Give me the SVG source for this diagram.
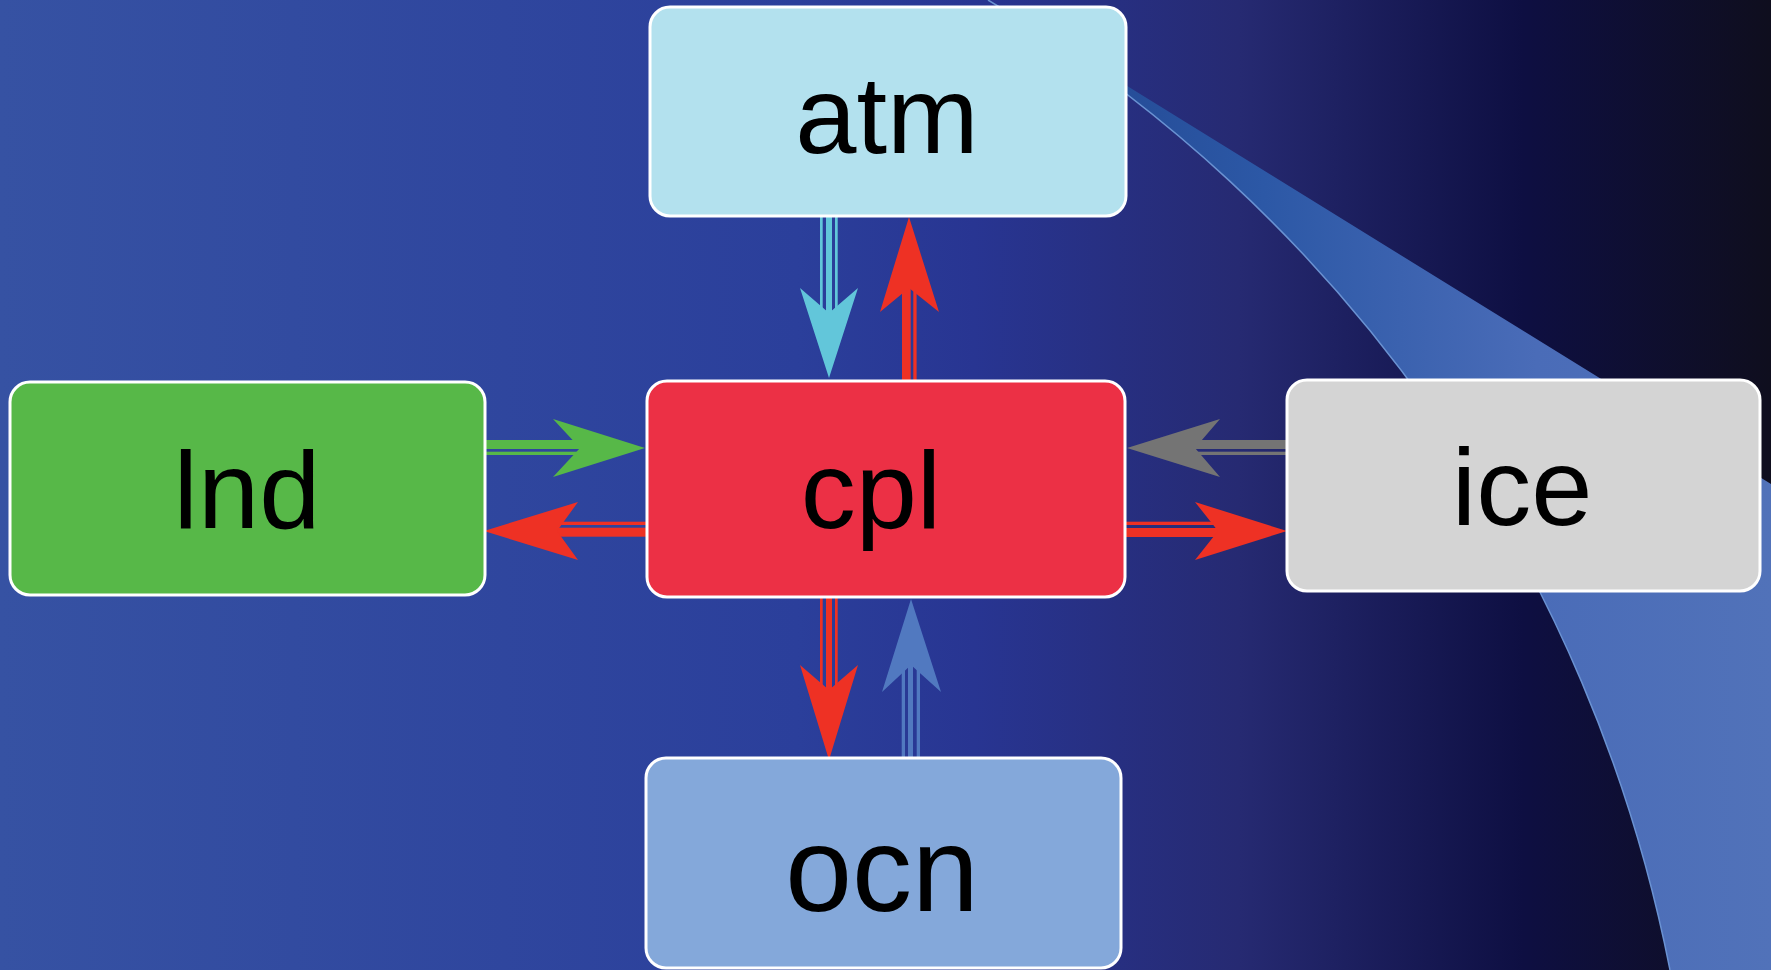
<svg xmlns="http://www.w3.org/2000/svg" width="1771" height="970" viewBox="0 0 1771 970">
  <defs>
    <linearGradient id="bg" x1="0" y1="0" x2="1771" y2="0" gradientUnits="userSpaceOnUse">
      <stop offset="0" stop-color="#3652a3"/>
      <stop offset="0.45" stop-color="#2b3f9b"/>
      <stop offset="0.55" stop-color="#283592"/>
      <stop offset="0.7" stop-color="#262a72"/>
      <stop offset="0.86" stop-color="#0e0f42"/>
      <stop offset="1" stop-color="#0f0e1e"/>
    </linearGradient>
    <linearGradient id="swoosh" x1="990" y1="0" x2="1771" y2="0" gradientUnits="userSpaceOnUse">
      <stop offset="0" stop-color="#1f438c"/>
      <stop offset="0.35" stop-color="#2c58a6"/>
      <stop offset="0.7" stop-color="#4a6cb8"/>
      <stop offset="1" stop-color="#5172b9"/>
    </linearGradient>
    <style>
      .box { stroke: #ffffff; stroke-width: 3; }
      .label { font-family: "Liberation Sans", Arial, sans-serif; font-size: 110px; fill: #000000; text-anchor: middle; }
      .red { fill: #ee3124; }
      .cyan { fill: #62c6da; }
      .green { fill: #57b848; }
      .gray { fill: #747474; }
      .blue { fill: #5179c0; }
    </style>
  </defs>

  <!-- backdrop -->
  <rect x="0" y="0" width="1771" height="970" fill="url(#bg)"/>
  <path d="M988,0 L1771,484 L1771,970 L1670,970 A1458,1458 0 0 0 988,0 Z" fill="url(#swoosh)"/>
  <path d="M988,0 A1458,1458 0 0 1 1670,970" fill="none" stroke="#6a92d2" stroke-width="1.5"/>

  <!-- connectors -->
  <g id="connectors">
    <!-- atm -> cpl -->
    <g id="atm-cpl">
      <rect class="cyan" x="820" y="216" width="2.7" height="100"/>
      <rect class="cyan" x="826" y="216" width="6" height="100"/>
      <rect class="cyan" x="835" y="216" width="2.7" height="100"/>
      <polygon class="cyan" points="829,378 800,288 829,313 858,288"/>
    </g>
    <!-- cpl -> atm -->
    <g id="cpl-atm">
      <rect class="red" x="902" y="288" width="8.7" height="93"/>
      <rect class="red" x="913.3" y="288" width="3.3" height="93"/>
      <polygon class="red" points="909,217 880,312 909,288 939,312"/>
    </g>
    <!-- lnd -> cpl -->
    <g id="lnd-cpl">
      <rect class="green" x="485" y="440" width="100" height="9"/>
      <rect class="green" x="485" y="451.7" width="100" height="3.3"/>
      <polygon class="green" points="645,448 553,419 580,448 553,477"/>
    </g>
    <!-- cpl -> lnd -->
    <g id="cpl-lnd">
      <rect class="red" x="552" y="521.7" width="95" height="3.3"/>
      <rect class="red" x="552" y="527.7" width="95" height="9"/>
      <polygon class="red" points="484,531 578,502 557,531 578,560"/>
    </g>
    <!-- ice -> cpl -->
    <g id="ice-cpl">
      <rect class="gray" x="1190" y="440" width="97" height="9"/>
      <rect class="gray" x="1190" y="451.7" width="97" height="3.3"/>
      <polygon class="gray" points="1127,448 1220,419 1195,448 1220,477"/>
    </g>
    <!-- cpl -> ice -->
    <g id="cpl-ice">
      <rect class="red" x="1125" y="521.7" width="97" height="3.3"/>
      <rect class="red" x="1125" y="528" width="97" height="9"/>
      <polygon class="red" points="1287,531 1195,502 1218,531 1195,560"/>
    </g>
    <!-- cpl -> ocn -->
    <g id="cpl-ocn">
      <rect class="red" x="820" y="597" width="2.7" height="98"/>
      <rect class="red" x="826" y="597" width="6" height="98"/>
      <rect class="red" x="835" y="597" width="2.7" height="98"/>
      <polygon class="red" points="829,760 800,665 829,690 858,665"/>
    </g>
    <!-- ocn -> cpl -->
    <g id="ocn-cpl">
      <rect class="blue" x="901.7" y="660" width="3.3" height="98"/>
      <rect class="blue" x="908" y="660" width="5" height="98"/>
      <rect class="blue" x="916.7" y="660" width="3.3" height="98"/>
      <polygon class="blue" points="911,599 882,692 911,665 941,692"/>
    </g>
  </g>

  <!-- components -->
  <g id="atm">
    <rect class="box" x="650" y="7" width="476" height="209" rx="20" fill="#b3e1ee"/>
    <text class="label" x="887" y="153">atm</text>
  </g>
  <g id="lnd">
    <rect class="box" x="10" y="382" width="475" height="213" rx="20" fill="#57b848"/>
    <text class="label" x="247" y="528">lnd</text>
  </g>
  <g id="cpl">
    <rect class="box" x="647" y="381" width="478" height="216" rx="20" fill="#ec3045"/>
    <text class="label" x="871" y="528">cpl</text>
  </g>
  <g id="ice">
    <rect class="box" x="1287" y="380" width="473" height="211" rx="20" fill="#d4d4d4"/>
    <text class="label" x="1522" y="525">ice</text>
  </g>
  <g id="ocn">
    <rect class="box" x="646" y="758" width="475" height="210" rx="20" fill="#84a8da"/>
    <text class="label" x="882" y="911" style="font-size:120px">ocn</text>
  </g>
</svg>
